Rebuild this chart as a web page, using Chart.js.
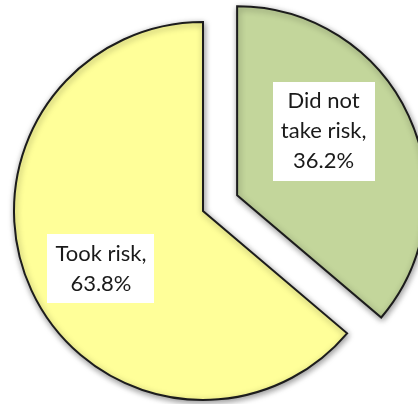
<!DOCTYPE html>
<html>
<head>
<meta charset="utf-8">
<script src="https://cdn.jsdelivr.net/npm/chart.js@4"></script>
<style>
    html, body { margin: 0; padding: 0; background: #ffffff; }
    #wrap { width: 418px; height: 404px; }
</style>
</head>
<body>
<div id="wrap"><canvas id="riskChart"></canvas></div>
<script>
    // Share of respondents by choice
    const categories = ['Did not take risk', 'Took risk'];
    const labelLines = [['Did not', 'take risk,'], ['Took risk,']];
    const shares = [36.2, 63.8];
    const sliceColors = ['#c3d69b', '#ffff99'];

    // Pull slices straight out along their bisector (keeps radius unchanged)
    const explodePlugin = {
        id: 'explode',
        beforeDatasetsDraw(chart, args, opts) {
            const meta = chart.getDatasetMeta(0);
            meta.data.forEach((arc, i) => {
                const d = opts.distance[i] || 0;
                if (!d || arc._exploded) return;
                const baseDraw = arc.draw.bind(arc);
                arc.draw = function (ctx, area) {
                    const mid = (this.startAngle + this.endAngle) / 2;
                    ctx.save();
                    ctx.translate(Math.cos(mid) * d, Math.sin(mid) * d);
                    baseDraw(ctx, area);
                    ctx.restore();
                };
                arc._exploded = true;
            });
        }
    };

    // Soft drop shadow under the slices
    const shadowPlugin = {
        id: 'sliceShadow',
        beforeDatasetsDraw(chart) {
            const ctx = chart.ctx;
            ctx.save();
            ctx.shadowColor = 'rgba(0, 0, 0, 0.4)';
            ctx.shadowBlur = 6;
            ctx.shadowOffsetX = 1;
            ctx.shadowOffsetY = 2;
        },
        afterDatasetsDraw(chart) {
            chart.ctx.restore();
        }
    };

    // White boxed labels: "category, value%"
    const boxLabels = {
        id: 'boxLabels',
        afterDatasetsDraw(chart, args, opts) {
            const ctx = chart.ctx;
            const meta = chart.getDatasetMeta(0);
            const pull = chart.options.plugins.explode.distance;
            ctx.save();
            ctx.font = opts.font;
            ctx.textAlign = 'center';
            ctx.textBaseline = 'middle';
            meta.data.forEach((arc, i) => {
                const place = opts.placement[i];
                const circ = arc.endAngle - arc.startAngle;
                const mid = arc.startAngle + circ / 2;
                const cx = arc.x + Math.cos(mid) * (pull[i] || 0);
                const cy = arc.y + Math.sin(mid) * (pull[i] || 0);
                const ang = arc.startAngle + circ * place.along;
                const r = arc.outerRadius * place.radius;
                const lx = cx + Math.cos(ang) * r;
                const ly = cy + Math.sin(ang) * r;

                const lines = labelLines[i].concat([shares[i].toFixed(1) + '%']);
                const w = Math.max(...lines.map(t => ctx.measureText(t).width)) + 16;
                const h = lines.length * opts.lineHeight + 9;
                ctx.fillStyle = '#ffffff';
                ctx.fillRect(Math.round(lx - w / 2), Math.round(ly - h / 2), Math.round(w), Math.round(h));
                ctx.fillStyle = '#1a1a1a';
                lines.forEach((t, k) => {
                    ctx.fillText(t, lx, ly - h / 2 + 4.5 + opts.lineHeight * (k + 0.5));
                });
            });
            ctx.restore();
        }
    };

    new Chart(document.getElementById('riskChart'), {
        type: 'pie',
        data: {
            labels: categories,
            datasets: [{
                data: shares,
                backgroundColor: sliceColors,
                borderColor: '#1c1c1c',
                borderWidth: 2,
                borderJoinStyle: 'miter'
            }]
        },
        options: {
            responsive: true,
            maintainAspectRatio: false,
            animation: false,
            radius: 189,
            layout: { padding: { left: 0, right: 12, top: 18, bottom: 0 } },
            plugins: {
                legend: { display: false },
                tooltip: { enabled: false },
                explode: { distance: [37.6, 0] },
                boxLabels: {
                    font: '22px Lato',
                    lineHeight: 30,
                    placement: [
                        { along: 0.41, radius: 0.57 },
                        { along: 0.48, radius: 0.62 }
                    ]
                }
            }
        },
        plugins: [shadowPlugin, explodePlugin, boxLabels]
    });
</script>
</body>
</html>
